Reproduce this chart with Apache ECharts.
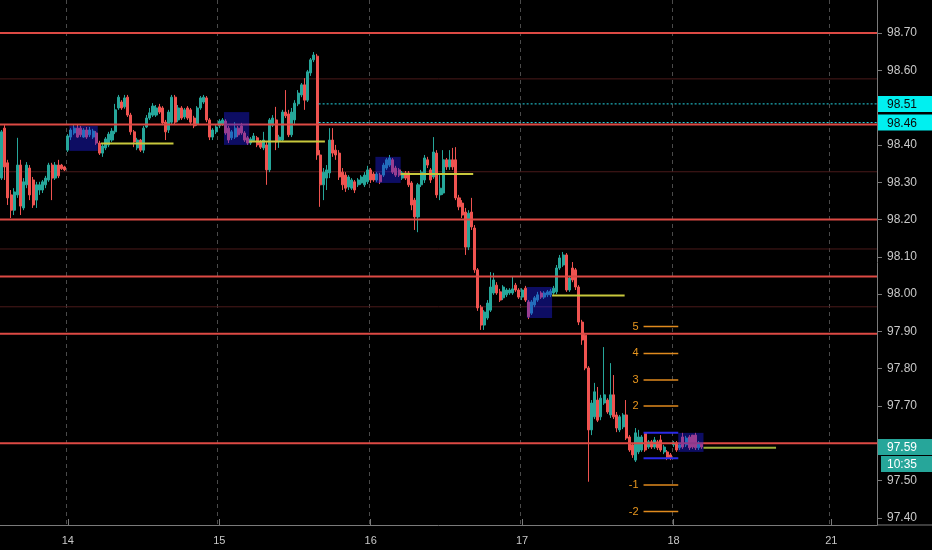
<!DOCTYPE html>
<html><head><meta charset="utf-8">
<script src="https://cdn.jsdelivr.net/npm/echarts@6.0.0/dist/echarts.min.js"></script>
<style>html,body{margin:0;padding:0;background:#000;}#c{width:932px;height:550px;}</style>
</head><body><div id="c"></div>
<script>
// ---- categories (30-minute bars) ----
const days = ['13','14','15','16','17','18','21'];
const barsPerDay = [21,48,48,48,48,50,15];
const labelDays = ['14','15','16','17','18','21'];

// ---- price axis ticks ----
const yTicks = [97.4,97.5,97.7,97.8,97.9,98.0,98.1,98.2,98.3,98.4,98.6,98.7];

// ---- candles [open, close, low, high] ----
const candles13 = [
[98.311,98.435,98.306,98.440],[98.445,98.341,98.306,98.453],[98.352,98.258,98.239,98.360],
[98.266,98.225,98.204,98.279],[98.225,98.274,98.212,98.284],[98.266,98.346,98.258,98.419],
[98.346,98.236,98.212,98.360],[98.231,98.301,98.225,98.311],[98.293,98.346,98.284,98.354],
[98.338,98.266,98.252,98.346],[98.306,98.239,98.231,98.314],[98.252,98.293,98.231,98.301],
[98.279,98.293,98.266,98.301],[98.279,98.301,98.271,98.306],[98.293,98.311,98.284,98.317],
[98.306,98.346,98.301,98.352],[98.346,98.311,98.252,98.352],[98.311,98.346,98.306,98.354],
[98.346,98.317,98.311,98.360],[98.346,98.336,98.333,98.349],[98.341,98.333,98.330,98.344]
];
const candles14 = [
[98.386,98.424,98.381,98.429],[98.421,98.440,98.413,98.445],[98.432,98.445,98.427,98.453],
[98.445,98.421,98.419,98.456],[98.445,98.427,98.421,98.451],[98.421,98.440,98.419,98.445],
[98.440,98.421,98.416,98.448],[98.427,98.440,98.421,98.448],[98.421,98.437,98.416,98.443],
[98.432,98.405,98.400,98.437],[98.405,98.378,98.373,98.411],[98.378,98.397,98.368,98.402],
[98.392,98.416,98.386,98.421],[98.400,98.429,98.394,98.435],[98.413,98.437,98.408,98.445],
[98.435,98.494,98.429,98.510],[98.499,98.528,98.494,98.534],[98.515,98.499,98.494,98.520],
[98.502,98.526,98.497,98.534],[98.528,98.480,98.475,98.534],[98.480,98.435,98.427,98.486],
[98.435,98.408,98.394,98.440],[98.392,98.413,98.386,98.419],[98.413,98.386,98.381,98.416],
[98.386,98.445,98.378,98.451],[98.448,98.472,98.445,98.480],[98.472,98.486,98.467,98.499],
[98.480,98.504,98.475,98.512],[98.480,98.499,98.475,98.507],[98.502,98.488,98.483,98.510],
[98.499,98.459,98.453,98.504],[98.461,98.435,98.413,98.467],[98.440,98.488,98.432,98.494],
[98.461,98.528,98.456,98.534],[98.528,98.461,98.456,98.534],[98.467,98.499,98.461,98.507],
[98.499,98.472,98.467,98.504],[98.475,98.494,98.469,98.499],[98.499,98.472,98.467,98.504],
[98.494,98.461,98.453,98.499],[98.472,98.451,98.445,98.478],[98.456,98.499,98.451,98.504],
[98.499,98.526,98.494,98.531],[98.515,98.528,98.510,98.534],[98.526,98.467,98.461,98.531],
[98.467,98.421,98.413,98.472],[98.421,98.440,98.413,98.445],[98.435,98.448,98.429,98.453]
];
const candles15 = [
[98.451,98.464,98.445,98.469],[98.456,98.467,98.451,98.472],[98.464,98.432,98.427,98.469],
[98.445,98.413,98.405,98.451],[98.419,98.435,98.413,98.440],[98.421,98.445,98.416,98.461],
[98.445,98.427,98.421,98.451],[98.451,98.432,98.427,98.459],[98.432,98.413,98.408,98.437],
[98.419,98.405,98.400,98.424],[98.405,98.416,98.400,98.421],[98.411,98.424,98.408,98.432],
[98.419,98.400,98.394,98.424],[98.408,98.394,98.389,98.413],[98.392,98.413,98.386,98.435],
[98.400,98.333,98.293,98.408],[98.333,98.467,98.327,98.472],[98.453,98.472,98.448,98.480],
[98.467,98.408,98.386,98.502],[98.411,98.421,98.392,98.427],[98.413,98.488,98.408,98.494],
[98.488,98.478,98.472,98.547],[98.483,98.427,98.421,98.494],[98.427,98.488,98.421,98.499],
[98.467,98.512,98.453,98.520],[98.510,98.539,98.504,98.547],[98.534,98.561,98.528,98.566],
[98.561,98.520,98.494,98.579],[98.520,98.596,98.515,98.601],[98.593,98.628,98.585,98.633],
[98.628,98.641,98.622,98.649],[98.638,98.373,98.360,98.644],[98.373,98.293,98.234,98.386],
[98.293,98.327,98.252,98.338],[98.311,98.333,98.279,98.346],[98.325,98.413,98.311,98.445],
[98.413,98.378,98.368,98.445],[98.386,98.373,98.360,98.400],[98.378,98.314,98.306,98.386],
[98.327,98.293,98.279,98.338],[98.319,98.284,98.274,98.327],[98.287,98.314,98.279,98.319],
[98.284,98.306,98.279,98.311],[98.301,98.279,98.271,98.306],[98.293,98.306,98.287,98.311],
[98.298,98.314,98.293,98.319],[98.293,98.319,98.287,98.327],[98.301,98.333,98.295,98.344]
];
const candles16 = [
[98.333,98.306,98.298,98.338],[98.322,98.306,98.301,98.327],[98.306,98.322,98.301,98.327],
[98.319,98.301,98.295,98.325],[98.319,98.346,98.314,98.352],[98.338,98.360,98.333,98.365],
[98.346,98.365,98.341,98.373],[98.360,98.327,98.322,98.365],[98.338,98.319,98.314,98.344],
[98.333,98.319,98.314,98.338],[98.311,98.325,98.306,98.330],[98.325,98.311,98.306,98.330],
[98.325,98.293,98.287,98.330],[98.298,98.239,98.225,98.303],[98.252,98.207,98.172,98.258],
[98.207,98.293,98.166,98.298],[98.293,98.327,98.287,98.333],[98.306,98.365,98.298,98.373],
[98.360,98.346,98.338,98.368],[98.333,98.306,98.298,98.338],[98.314,98.381,98.309,98.421],
[98.378,98.266,98.258,98.386],[98.266,98.284,98.252,98.319],[98.271,98.360,98.266,98.386],
[98.360,98.341,98.333,98.365],[98.341,98.360,98.333,98.386],[98.360,98.341,98.333,98.392],
[98.360,98.258,98.252,98.394],[98.258,98.234,98.225,98.266],[98.244,98.212,98.204,98.252],
[98.220,98.126,98.105,98.231],[98.126,98.217,98.118,98.225],[98.220,98.180,98.172,98.258],
[98.177,98.065,98.057,98.185],[98.065,97.963,97.955,98.070],[97.965,97.917,97.904,97.971],
[97.917,97.952,97.904,97.957],[97.936,97.976,97.931,97.984],[97.957,98.019,97.952,98.059],
[98.003,98.038,97.998,98.057],[98.024,98.003,97.998,98.032],[98.006,97.984,97.979,98.014],
[97.990,98.019,97.984,98.024],[97.998,98.011,97.992,98.016],[98.003,98.011,97.998,98.016],
[98.003,98.014,97.998,98.046],[98.024,98.011,98.006,98.030],[98.011,97.992,97.987,98.016]
];
const candles17 = [
[97.992,98.011,97.984,98.016],[98.016,97.984,97.979,98.022],[97.979,97.939,97.933,97.984],
[97.949,97.979,97.944,97.984],[97.971,97.990,97.965,97.995],[97.984,97.998,97.979,98.006],
[98.003,97.992,97.987,98.008],[97.992,98.003,97.987,98.008],[97.998,98.006,97.992,98.011],
[97.998,98.008,97.992,98.014],[98.003,98.016,97.998,98.022],[98.006,98.070,98.000,98.078],
[98.070,98.097,98.065,98.105],[98.078,98.105,98.073,98.113],[98.105,98.011,98.006,98.110],
[98.011,98.043,98.006,98.049],[98.070,98.038,98.032,98.086],[98.065,98.019,98.011,98.070],
[98.019,97.925,97.917,98.024],[97.925,97.877,97.864,97.931],[97.890,97.802,97.796,97.896],
[97.802,97.636,97.497,97.807],[97.636,97.708,97.622,97.716],[97.671,97.738,97.665,97.762],
[97.716,97.662,97.657,97.751],[97.671,97.721,97.662,97.730],[97.708,97.730,97.703,97.858],
[97.716,97.684,97.679,97.721],[97.676,97.730,97.668,97.815],[97.730,97.671,97.665,97.783],
[97.676,97.641,97.630,97.684],[97.636,97.671,97.630,97.676],[97.644,97.676,97.638,97.681],
[97.676,97.614,97.609,97.716],[97.617,97.582,97.577,97.622],[97.596,97.569,97.561,97.601],
[97.555,97.628,97.550,97.641],[97.577,97.617,97.571,97.636],[97.582,97.617,97.577,97.622],
[97.628,97.582,97.577,97.628],[97.590,97.604,97.585,97.609],[97.604,97.590,97.585,97.609],
[97.590,97.609,97.585,97.617],[97.604,97.588,97.582,97.609],[97.609,97.582,97.577,97.622],
[97.577,97.590,97.571,97.596],[97.577,97.561,97.555,97.582],[97.569,97.561,97.555,97.574]
];
const candles18 = [
[97.596,97.601,97.590,97.606],[97.601,97.582,97.577,97.606],[97.588,97.596,97.582,97.601],
[97.617,97.590,97.585,97.628],[97.596,97.614,97.590,97.620],[97.617,97.588,97.582,97.622],
[97.622,97.590,97.585,97.622],[97.622,97.588,97.582,97.628],[97.588,97.601,97.582,97.606],
[97.598,97.590,97.585,97.601]
];

// ---- drawings ----
const srLevels = [98.70, 98.455, 98.20, 98.047, 97.894, 97.600];
const faintLevels = [98.577, 98.328, 98.121, 97.966];
// [startBar, endBar, top, bottom]
const zoneBoxes = [[22,30,98.451,98.384],[71,78,98.488,98.400],[119,126,98.368,98.298],[167,174,98.019,97.936],[215,222,97.628,97.577]];
// [startBar, endBar, price]
const midLines = [[32,54,98.404],[79,102,98.409],[127,149,98.322],[175,197,97.996]];
const lastMidLine = [[223,245,97.588]];
const cyanLevels = [[101,277,98.51],[101,277,98.46]];
const fibRange = [204,214];
const fibPrices = [97.913,97.841,97.770,97.700,97.488,97.417];
const fibLabels = ['5','4','3','2','-1','-2'];
const boxEdges = [97.628,97.560];
const priceTags = [
  {v:98.51, text:'98.51', bg:'#00f0f0', fg:'#0a0a0a', dy:0, inset:0},
  {v:98.46, text:'98.46', bg:'#00f0f0', fg:'#0a0a0a', dy:0, inset:0},
  {v:97.59, text:'97.59', bg:'#26a69a', fg:'#ffffff', dy:0, inset:0},
  {v:97.59, text:'10:35', bg:'#26a69a', fg:'#ffffff', dy:17, inset:3}
];

const candles = [].concat(candles13,candles14,candles15,candles16,candles17,candles18);
const catList = [];
days.forEach((d,k)=>{ for(let s=0;s<barsPerDay[k];s++) catList.push(d+'-'+s); });
const isDayStart = (i) => { const p = String(catList[i]).split('-'); return p[1]==='0' && labelDays.indexOf(p[0])>=0; };

const FONT = '"Liberation Sans", "DejaVu Sans", sans-serif';

function fullLine(style){
  return function(params, api){
    const cs = params.coordSys;
    const y = api.coord([0, api.value(1)])[1];
    return {type:'line', shape:{x1:cs.x, y1:y, x2:cs.x+cs.width, y2:y}, style:style};
  };
}
function segLine(style, labels, labelColor){
  return function(params, api){
    const bw = api.size([1,0])[0];
    const a = api.coord([api.value(0), api.value(2)]);
    const b = api.coord([api.value(1), api.value(2)]);
    const cs = params.coordSys;
    const x2 = Math.min(b[0]+bw/2, cs.x+cs.width);
    const children = [{type:'line', shape:{x1:a[0]-bw/2, y1:a[1], x2:x2, y2:a[1]}, style:style}];
    if (labels) {
      children.push({type:'text', style:{text:labels[params.dataIndex], x:a[0]-bw/2-5, y:a[1],
        fill:labelColor, font:'11px '+FONT, align:'right', verticalAlign:'middle'}});
    }
    return {type:'group', children:children};
  };
}

const chart = echarts.init(document.getElementById('c'), null, {renderer:'canvas'});
chart.setOption({
  backgroundColor:'#000',
  animation:false,
  grid:{left:0, right:55, top:0, bottom:25},
  xAxis:{
    type:'category', data:catList, boundaryGap:true,
    axisLine:{show:true, lineStyle:{color:'#7a7a7a'}},
    axisTick:{show:true, inside:true, length:6, alignWithLabel:true, interval:(i)=>isDayStart(i), lineStyle:{color:'#7a7a7a'}},
    axisLabel:{interval:(i)=>isDayStart(i), formatter:(v)=>String(v).split('-')[0], color:'#c8c8c8', fontFamily:FONT, fontSize:11, margin:10},
    splitLine:{show:true, interval:(i)=>isDayStart(i), lineStyle:{color:'#4a4a4a', type:[4,4], width:1}}
  },
  yAxis:{
    type:'value', position:'right', min:97.381, max:98.7885, scale:true,
    axisLine:{show:true, lineStyle:{color:'#7a7a7a'}},
    axisTick:{show:true, length:5, customValues:yTicks, lineStyle:{color:'#7a7a7a'}},
    axisLabel:{customValues:yTicks, formatter:(v)=>Number(v).toFixed(2), color:'#c8c8c8', fontFamily:FONT, fontSize:12, margin:10},
    splitLine:{show:false}
  },
  series:[
    {type:'custom', silent:true, z:1, renderItem:fullLine({stroke:'#4a1a1a', lineWidth:1}),
      data:faintLevels.map(v=>[0,v]), encode:{x:0,y:1}},
    {type:'candlestick', silent:true, z:2, data:candles, barWidth:'80%',
      itemStyle:{color:'#26a69a', color0:'#ef5350', borderColor:'#26a69a', borderColor0:'#ef5350', borderWidth:1}},
    {type:'custom', silent:true, z:3, renderItem:fullLine({stroke:'#dc4a44', lineWidth:2}),
      data:srLevels.map(v=>[0,v]), encode:{x:0,y:1}},
    {type:'custom', silent:true, z:4,
      renderItem:function(params, api){
        const bw = api.size([1,0])[0];
        const a = api.coord([api.value(0), api.value(2)]);
        const b = api.coord([api.value(1), api.value(3)]);
        return {type:'rect', shape:{x:a[0]-bw/2, y:a[1], width:b[0]-a[0]+bw, height:b[1]-a[1]}, style:{fill:'rgba(30,30,235,0.42)'}};
      },
      data:zoneBoxes, encode:{x:[0,1], y:[2,3]}},
    {type:'custom', silent:true, z:5, renderItem:segLine({stroke:'#c8c83c', lineWidth:2}),
      data:midLines, encode:{x:[0,1], y:2}},
    {type:'custom', silent:true, z:5, renderItem:segLine({stroke:'#9cb03c', lineWidth:2}),
      data:lastMidLine, encode:{x:[0,1], y:2}},
    {type:'custom', silent:true, z:5, renderItem:segLine({stroke:'#22d4e0', lineWidth:1, lineDash:[2,2]}),
      data:cyanLevels, encode:{x:[0,1], y:2}},
    {type:'custom', silent:true, z:5, renderItem:segLine({stroke:'#e08a1e', lineWidth:1.5}, fibLabels, '#e8961e'),
      data:fibPrices.map(v=>[fibRange[0], fibRange[1], v]), encode:{x:[0,1], y:2}},
    {type:'custom', silent:true, z:5, renderItem:segLine({stroke:'#2a2ae6', lineWidth:2}),
      data:boxEdges.map(v=>[fibRange[0], fibRange[1], v]), encode:{x:[0,1], y:2}},
    {type:'custom', silent:true, z:10, clip:false,
      renderItem:function(params, api){
        const cs = params.coordSys;
        const t = priceTags[params.dataIndex];
        const y = api.coord([0, t.v])[1] + t.dy;
        const x0 = cs.x + cs.width;
        const ch = [
          {type:'rect', shape:{x:x0+1+t.inset, y:y-8, width:54-t.inset, height:16}, style:{fill:t.bg}},
          {type:'text', style:{text:t.text, x:x0+10, y:y+1, fill:t.fg, font:'12px '+FONT, align:'left', verticalAlign:'middle'}}
        ];
        if (params.dataIndex === 0) {
          ch.push({type:'line', shape:{x1:x0, y1:cs.y+cs.height, x2:x0+55, y2:cs.y+cs.height}, style:{stroke:'#7a7a7a', lineWidth:1}});
        }
        return {type:'group', children:ch};
      },
      data:priceTags.map(t=>[0,t.v]), encode:{x:0,y:1}}
  ]
});
</script></body></html>
